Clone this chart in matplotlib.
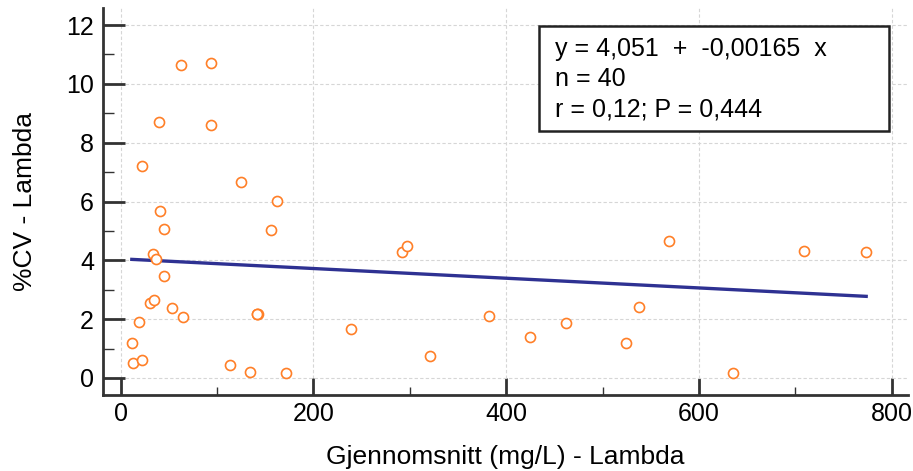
import matplotlib
matplotlib.use("Agg")
import matplotlib.pyplot as plt
import numpy as np
from matplotlib.patches import Rectangle
from matplotlib.ticker import MultipleLocator

# mean concentration (mg/L) and %CV for Lambda
mean_mgl = [
    62.4, 93.9, 39.3, 93.2, 21.7, 124.5, 161.7,
    40.7, 44.5, 156.2, 33.0, 36.9, 44.5, 29.9, 34.8, 52.9, 64.3,
    141.0, 142.5, 18.8, 11.5, 13.2, 21.9, 113.4, 134.3, 171.1, 239.0,
    292.3, 296.8, 321.1, 382.4, 424.6, 462.3, 524.6, 537.7, 568.7,
    635.9, 709.5, 773.6, 141.8,
]
cv_pct = [
    10.65, 10.72, 8.69, 8.61, 7.22, 6.65, 6.03,
    5.67, 5.06, 5.04, 4.21, 4.05, 3.45, 2.54, 2.64, 2.39, 2.08,
    2.19, 2.16, 1.91, 1.20, 0.50, 0.61, 0.44, 0.19, 0.16, 1.65,
    4.27, 4.50, 0.73, 2.12, 1.40, 1.86, 1.18, 2.40, 4.66,
    0.17, 4.33, 4.27, 2.17,
]

intercept = 4.051
slope = -0.00165
stats_lines = [
    "y = 4,051  +  -0,00165  x",
    "n = 40",
    "r = 0,12; P = 0,444",
]

plt.rcParams["font.family"] = ["Liberation Sans", "DejaVu Sans"]

fig = plt.figure(figsize=(9.13, 4.71), dpi=100)
ax = fig.add_axes([103 / 913, 1 - 395 / 471, 805 / 913, 387 / 471])

x = np.array(mean_mgl)
y = np.array(cv_pct)

ax.scatter(x, y, s=52, facecolors="white", edgecolors="#ff7f27",
           linewidths=1.2, zorder=3)

xl = np.array([x.min(), x.max()])
ax.plot(xl, intercept + slope * xl, color="#2e3192", lw=2.4, zorder=2)

ax.set_xlim(-18.4, 817)
ax.set_ylim(-0.58, 12.58)
ax.xaxis.set_major_locator(MultipleLocator(200))
ax.xaxis.set_minor_locator(MultipleLocator(100))
ax.yaxis.set_major_locator(MultipleLocator(2))
ax.yaxis.set_minor_locator(MultipleLocator(1))

ax.grid(True, which="major", color="#d6d6d6", ls=(0, (3, 2)), lw=0.8, zorder=0)

for side in ("top", "right"):
    ax.spines[side].set_visible(False)
for side in ("left", "bottom"):
    ax.spines[side].set_color("#333333")
    ax.spines[side].set_linewidth(2.0)

ax.tick_params(which="major", direction="in", length=12, width=2,
               color="#333333", labelsize=18)
ax.tick_params(axis="x", which="major", pad=5)
ax.tick_params(axis="y", which="major", length=16, pad=6.5)
ax.tick_params(which="minor", direction="in", length=6, width=1,
               color="#333333")
ax.tick_params(axis="y", which="minor", length=8)

ax.set_xlabel("Gjennomsnitt (mg/L) - Lambda", fontsize=19, labelpad=14)
ax.set_ylabel("%CV - Lambda", fontsize=19, labelpad=21)

# statistics box
fig.patches.append(Rectangle((539 / 913, 1 - 131 / 471), 350 / 913, 105 / 471,
                             transform=fig.transFigure, facecolor="white",
                             edgecolor="#222222", lw=1.8, zorder=5))
for i, line in enumerate(stats_lines):
    fig.text(555 / 913, 1 - (56 + 30 * i) / 471, line, fontsize=18,
             va="baseline", ha="left", zorder=6)

fig.savefig("out.png", dpi=100)
